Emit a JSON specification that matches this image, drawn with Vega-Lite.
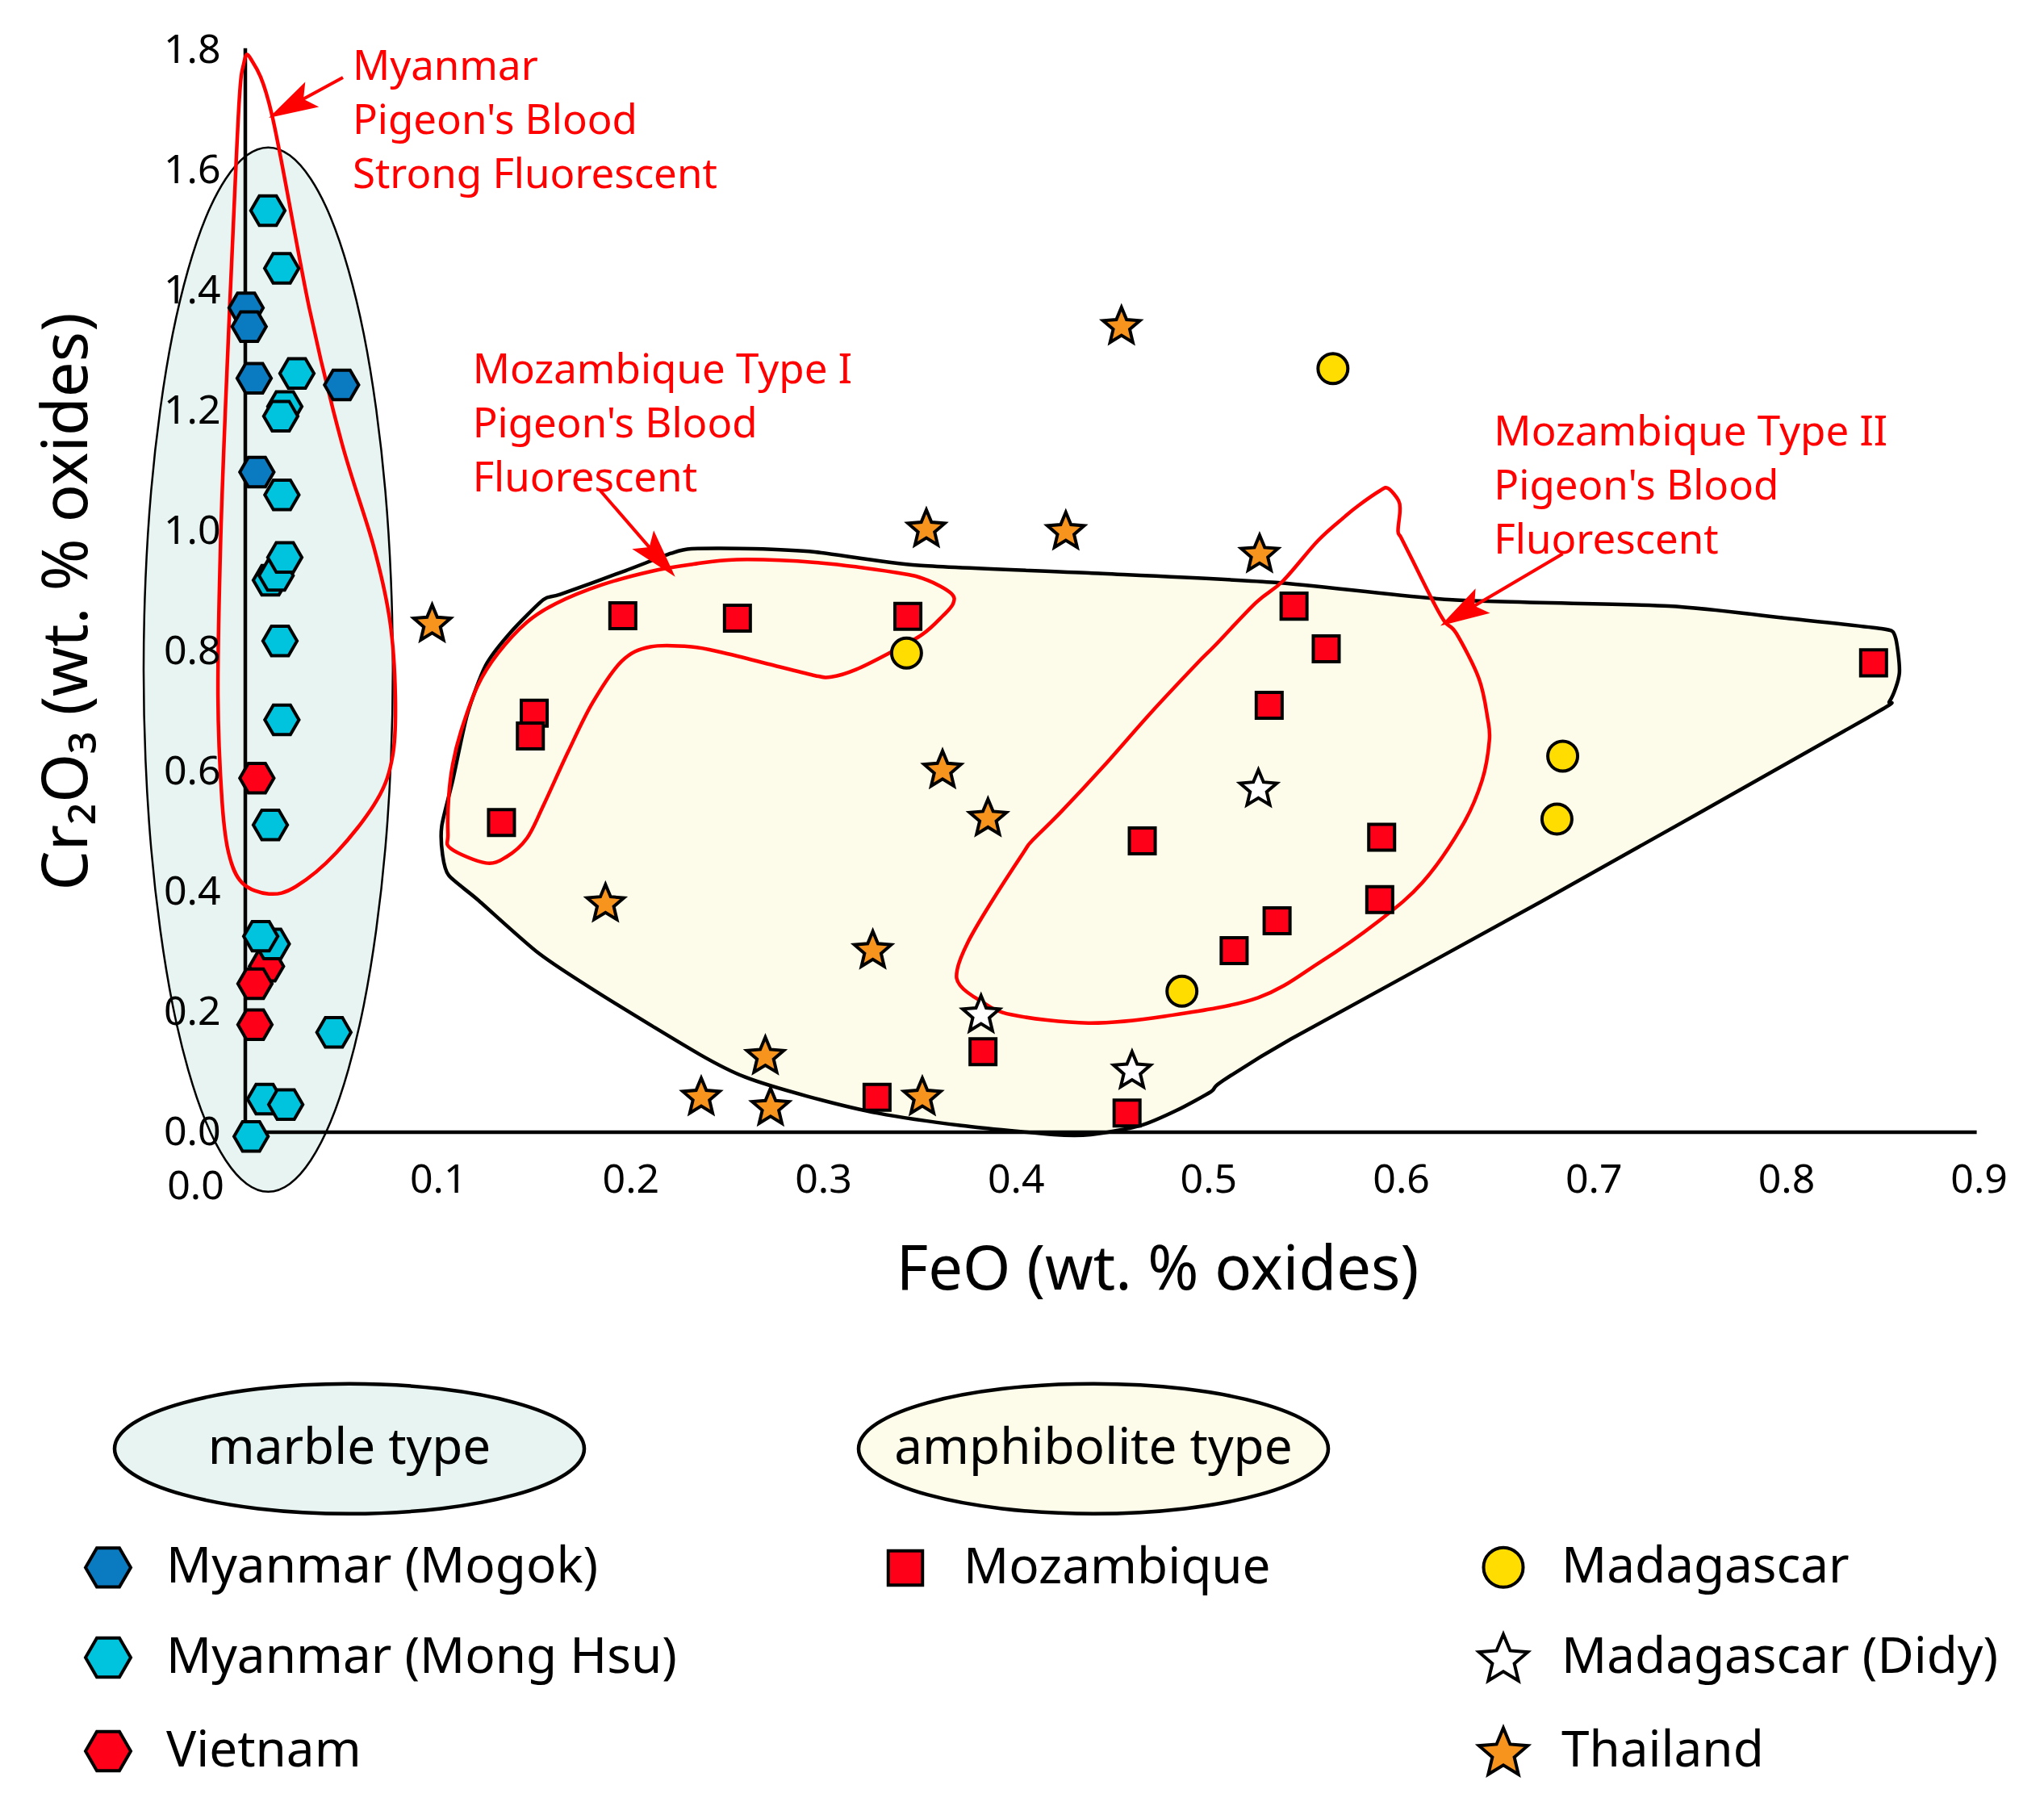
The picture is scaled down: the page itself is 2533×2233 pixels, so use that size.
{
  "$schema": "https://vega.github.io/schema/vega-lite/v6.json",
  "width": 2172,
  "height": 1341,
  "autosize": {"type": "none"},
  "padding": {"left": 304, "top": 62, "right": 57, "bottom": 830},
  "background": "white",
  "config": {"view": {"stroke": null}, "font": "Noto Sans"},
  "datasets": {
    "regions": [
      {"region": "marble type", "i": 0, "x": 0.0766, "y": 0.7695},
      {"region": "marble type", "i": 1, "x": 0.0756, "y": 0.9203},
      {"region": "marble type", "i": 2, "x": 0.0727, "y": 1.0665},
      {"region": "marble type", "i": 3, "x": 0.0679, "y": 1.2038},
      {"region": "marble type", "i": 4, "x": 0.0615, "y": 1.3278},
      {"region": "marble type", "i": 5, "x": 0.0535, "y": 1.4348},
      {"region": "marble type", "i": 6, "x": 0.0443, "y": 1.5216},
      {"region": "marble type", "i": 7, "x": 0.034, "y": 1.5856},
      {"region": "marble type", "i": 8, "x": 0.0231, "y": 1.6248},
      {"region": "marble type", "i": 9, "x": 0.0119, "y": 1.638},
      {"region": "marble type", "i": 10, "x": 0.0007, "y": 1.6248},
      {"region": "marble type", "i": 11, "x": -0.0102, "y": 1.5856},
      {"region": "marble type", "i": 12, "x": -0.0205, "y": 1.5216},
      {"region": "marble type", "i": 13, "x": -0.0297, "y": 1.4348},
      {"region": "marble type", "i": 14, "x": -0.0377, "y": 1.3278},
      {"region": "marble type", "i": 15, "x": -0.0441, "y": 1.2038},
      {"region": "marble type", "i": 16, "x": -0.0489, "y": 1.0665},
      {"region": "marble type", "i": 17, "x": -0.0518, "y": 0.9203},
      {"region": "marble type", "i": 18, "x": -0.0528, "y": 0.7695},
      {"region": "marble type", "i": 19, "x": -0.0518, "y": 0.6187},
      {"region": "marble type", "i": 20, "x": -0.0489, "y": 0.4725},
      {"region": "marble type", "i": 21, "x": -0.0441, "y": 0.3352},
      {"region": "marble type", "i": 22, "x": -0.0377, "y": 0.2112},
      {"region": "marble type", "i": 23, "x": -0.0297, "y": 0.1042},
      {"region": "marble type", "i": 24, "x": -0.0205, "y": 0.0174},
      {"region": "marble type", "i": 25, "x": -0.0102, "y": -0.0466},
      {"region": "marble type", "i": 26, "x": 0.0007, "y": -0.0858},
      {"region": "marble type", "i": 27, "x": 0.0119, "y": -0.099},
      {"region": "marble type", "i": 28, "x": 0.0231, "y": -0.0858},
      {"region": "marble type", "i": 29, "x": 0.034, "y": -0.0466},
      {"region": "marble type", "i": 30, "x": 0.0443, "y": 0.0174},
      {"region": "marble type", "i": 31, "x": 0.0535, "y": 0.1042},
      {"region": "marble type", "i": 32, "x": 0.0615, "y": 0.2112},
      {"region": "marble type", "i": 33, "x": 0.0679, "y": 0.3352},
      {"region": "marble type", "i": 34, "x": 0.0727, "y": 0.4725},
      {"region": "marble type", "i": 35, "x": 0.0756, "y": 0.6187},
      {"region": "amphibolite type", "i": 0, "x": 0.102, "y": 0.5094},
      {"region": "amphibolite type", "i": 1, "x": 0.1077, "y": 0.5852},
      {"region": "amphibolite type", "i": 2, "x": 0.1152, "y": 0.6944},
      {"region": "amphibolite type", "i": 3, "x": 0.1248, "y": 0.7765},
      {"region": "amphibolite type", "i": 4, "x": 0.1377, "y": 0.8313},
      {"region": "amphibolite type", "i": 5, "x": 0.1548, "y": 0.886},
      {"region": "amphibolite type", "i": 6, "x": 0.1634, "y": 0.8944},
      {"region": "amphibolite type", "i": 7, "x": 0.1975, "y": 0.9342},
      {"region": "amphibolite type", "i": 8, "x": 0.221, "y": 0.9628},
      {"region": "amphibolite type", "i": 9, "x": 0.2317, "y": 0.9705},
      {"region": "amphibolite type", "i": 10, "x": 0.2638, "y": 0.9705},
      {"region": "amphibolite type", "i": 11, "x": 0.2958, "y": 0.9651},
      {"region": "amphibolite type", "i": 12, "x": 0.3493, "y": 0.943},
      {"region": "amphibolite type", "i": 13, "x": 0.4382, "y": 0.9302},
      {"region": "amphibolite type", "i": 14, "x": 0.5348, "y": 0.9144},
      {"region": "amphibolite type", "i": 15, "x": 0.6267, "y": 0.8855},
      {"region": "amphibolite type", "i": 16, "x": 0.739, "y": 0.8752},
      {"region": "amphibolite type", "i": 17, "x": 0.8, "y": 0.855},
      {"region": "amphibolite type", "i": 18, "x": 0.8495, "y": 0.8375},
      {"region": "amphibolite type", "i": 19, "x": 0.8565, "y": 0.8255},
      {"region": "amphibolite type", "i": 20, "x": 0.8588, "y": 0.7638},
      {"region": "amphibolite type", "i": 21, "x": 0.8537, "y": 0.7168},
      {"region": "amphibolite type", "i": 22, "x": 0.8419, "y": 0.6886},
      {"region": "amphibolite type", "i": 23, "x": 0.6736, "y": 0.3849},
      {"region": "amphibolite type", "i": 24, "x": 0.5429, "y": 0.155},
      {"region": "amphibolite type", "i": 25, "x": 0.5064, "y": 0.0832},
      {"region": "amphibolite type", "i": 26, "x": 0.5015, "y": 0.0677},
      {"region": "amphibolite type", "i": 27, "x": 0.4839, "y": 0.0369},
      {"region": "amphibolite type", "i": 28, "x": 0.4647, "y": 0.011},
      {"region": "amphibolite type", "i": 29, "x": 0.439, "y": -0.004},
      {"region": "amphibolite type", "i": 30, "x": 0.4198, "y": -0.004},
      {"region": "amphibolite type", "i": 31, "x": 0.3718, "y": 0.0111},
      {"region": "amphibolite type", "i": 32, "x": 0.3284, "y": 0.0317},
      {"region": "amphibolite type", "i": 33, "x": 0.2916, "y": 0.06},
      {"region": "amphibolite type", "i": 34, "x": 0.2595, "y": 0.0917},
      {"region": "amphibolite type", "i": 35, "x": 0.2359, "y": 0.1294},
      {"region": "amphibolite type", "i": 36, "x": 0.1848, "y": 0.2286},
      {"region": "amphibolite type", "i": 37, "x": 0.1525, "y": 0.2972},
      {"region": "amphibolite type", "i": 38, "x": 0.1207, "y": 0.3866},
      {"region": "amphibolite type", "i": 39, "x": 0.1056, "y": 0.4272},
      {"region": "amphibolite type", "i": 40, "x": 0.1024, "y": 0.4617}
    ],
    "axes": [
      {"x": 0, "y": 0, "x2": 0, "y2": 1.8},
      {"x": 0, "y": 0, "x2": 0.898, "y2": 0}
    ],
    "outlines": [
      {"name": "Myanmar", "i": 0, "x": 0.0025, "y": 1.787},
      {"name": "Myanmar", "i": 1, "x": 0.0137, "y": 1.694},
      {"name": "Myanmar", "i": 2, "x": 0.0332, "y": 1.371},
      {"name": "Myanmar", "i": 3, "x": 0.05, "y": 1.1477},
      {"name": "Myanmar", "i": 4, "x": 0.0667, "y": 0.9737},
      {"name": "Myanmar", "i": 5, "x": 0.0751, "y": 0.8497},
      {"name": "Myanmar", "i": 6, "x": 0.0779, "y": 0.7254},
      {"name": "Myanmar", "i": 7, "x": 0.0765, "y": 0.626},
      {"name": "Myanmar", "i": 8, "x": 0.0682, "y": 0.5517},
      {"name": "Myanmar", "i": 9, "x": 0.0472, "y": 0.4647},
      {"name": "Myanmar", "i": 10, "x": 0.0263, "y": 0.4087},
      {"name": "Myanmar", "i": 11, "x": 0.0123, "y": 0.3964},
      {"name": "Myanmar", "i": 12, "x": -0.0017, "y": 0.415},
      {"name": "Myanmar", "i": 13, "x": -0.0087, "y": 0.4647},
      {"name": "Myanmar", "i": 14, "x": -0.0121, "y": 0.5517},
      {"name": "Myanmar", "i": 15, "x": -0.0142, "y": 0.7254},
      {"name": "Myanmar", "i": 16, "x": -0.0129, "y": 0.9737},
      {"name": "Myanmar", "i": 17, "x": -0.0101, "y": 1.2222},
      {"name": "Myanmar", "i": 18, "x": -0.0059, "y": 1.5325},
      {"name": "Myanmar", "i": 19, "x": -0.0031, "y": 1.7188},
      {"name": "Myanmar", "i": 20, "x": -0.001, "y": 1.7747},
      {"name": "TypeI", "i": 0, "x": 0.1067, "y": 0.4718},
      {"name": "TypeI", "i": 1, "x": 0.1248, "y": 0.4478},
      {"name": "TypeI", "i": 2, "x": 0.1356, "y": 0.4581},
      {"name": "TypeI", "i": 3, "x": 0.1462, "y": 0.4889},
      {"name": "TypeI", "i": 4, "x": 0.1548, "y": 0.5436},
      {"name": "TypeI", "i": 5, "x": 0.1676, "y": 0.6328},
      {"name": "TypeI", "i": 6, "x": 0.1804, "y": 0.7149},
      {"name": "TypeI", "i": 7, "x": 0.1954, "y": 0.7834},
      {"name": "TypeI", "i": 8, "x": 0.2103, "y": 0.8074},
      {"name": "TypeI", "i": 9, "x": 0.2317, "y": 0.8074},
      {"name": "TypeI", "i": 10, "x": 0.2488, "y": 0.797},
      {"name": "TypeI", "i": 11, "x": 0.2744, "y": 0.7765},
      {"name": "TypeI", "i": 12, "x": 0.2958, "y": 0.7595},
      {"name": "TypeI", "i": 13, "x": 0.3044, "y": 0.7573},
      {"name": "TypeI", "i": 14, "x": 0.3171, "y": 0.7697},
      {"name": "TypeI", "i": 15, "x": 0.3343, "y": 0.797},
      {"name": "TypeI", "i": 16, "x": 0.3515, "y": 0.8279},
      {"name": "TypeI", "i": 17, "x": 0.3621, "y": 0.8587},
      {"name": "TypeI", "i": 18, "x": 0.3675, "y": 0.8792},
      {"name": "TypeI", "i": 19, "x": 0.3664, "y": 0.8964},
      {"name": "TypeI", "i": 20, "x": 0.3536, "y": 0.9189},
      {"name": "TypeI", "i": 21, "x": 0.3385, "y": 0.9306},
      {"name": "TypeI", "i": 22, "x": 0.2958, "y": 0.9477},
      {"name": "TypeI", "i": 23, "x": 0.2551, "y": 0.9525},
      {"name": "TypeI", "i": 24, "x": 0.2317, "y": 0.9443},
      {"name": "TypeI", "i": 25, "x": 0.2103, "y": 0.9326},
      {"name": "TypeI", "i": 26, "x": 0.1848, "y": 0.9101},
      {"name": "TypeI", "i": 27, "x": 0.1612, "y": 0.8792},
      {"name": "TypeI", "i": 28, "x": 0.1462, "y": 0.8483},
      {"name": "TypeI", "i": 29, "x": 0.1313, "y": 0.797},
      {"name": "TypeI", "i": 30, "x": 0.1206, "y": 0.7423},
      {"name": "TypeI", "i": 31, "x": 0.112, "y": 0.6671},
      {"name": "TypeI", "i": 32, "x": 0.1077, "y": 0.6121},
      {"name": "TypeI", "i": 33, "x": 0.1056, "y": 0.5573},
      {"name": "TypeI", "i": 34, "x": 0.1052, "y": 0.4957},
      {"name": "TypeII", "i": 0, "x": 0.5932, "y": 1.0711},
      {"name": "TypeII", "i": 1, "x": 0.5987, "y": 1.051},
      {"name": "TypeII", "i": 2, "x": 0.5995, "y": 1.0336},
      {"name": "TypeII", "i": 3, "x": 0.5985, "y": 0.9996},
      {"name": "TypeII", "i": 4, "x": 0.6002, "y": 0.9884},
      {"name": "TypeII", "i": 5, "x": 0.6058, "y": 0.9526},
      {"name": "TypeII", "i": 6, "x": 0.617, "y": 0.881},
      {"name": "TypeII", "i": 7, "x": 0.6229, "y": 0.8483},
      {"name": "TypeII", "i": 8, "x": 0.6288, "y": 0.8295},
      {"name": "TypeII", "i": 9, "x": 0.6405, "y": 0.7544},
      {"name": "TypeII", "i": 10, "x": 0.645, "y": 0.6886},
      {"name": "TypeII", "i": 11, "x": 0.6459, "y": 0.651},
      {"name": "TypeII", "i": 12, "x": 0.6421, "y": 0.5848},
      {"name": "TypeII", "i": 13, "x": 0.6318, "y": 0.5095},
      {"name": "TypeII", "i": 14, "x": 0.6112, "y": 0.4153},
      {"name": "TypeII", "i": 15, "x": 0.5877, "y": 0.3494},
      {"name": "TypeII", "i": 16, "x": 0.5583, "y": 0.2835},
      {"name": "TypeII", "i": 17, "x": 0.5258, "y": 0.2238},
      {"name": "TypeII", "i": 18, "x": 0.4777, "y": 0.193},
      {"name": "TypeII", "i": 19, "x": 0.4377, "y": 0.1816},
      {"name": "TypeII", "i": 20, "x": 0.3976, "y": 0.1956},
      {"name": "TypeII", "i": 21, "x": 0.3816, "y": 0.2187},
      {"name": "TypeII", "i": 22, "x": 0.3711, "y": 0.2443},
      {"name": "TypeII", "i": 23, "x": 0.3696, "y": 0.27},
      {"name": "TypeII", "i": 24, "x": 0.3752, "y": 0.3162},
      {"name": "TypeII", "i": 25, "x": 0.3864, "y": 0.3779},
      {"name": "TypeII", "i": 26, "x": 0.404, "y": 0.4652},
      {"name": "TypeII", "i": 27, "x": 0.4088, "y": 0.4858},
      {"name": "TypeII", "i": 28, "x": 0.4233, "y": 0.532},
      {"name": "TypeII", "i": 29, "x": 0.4457, "y": 0.609},
      {"name": "TypeII", "i": 30, "x": 0.4698, "y": 0.6964},
      {"name": "TypeII", "i": 31, "x": 0.4938, "y": 0.7785},
      {"name": "TypeII", "i": 32, "x": 0.5034, "y": 0.8094},
      {"name": "TypeII", "i": 33, "x": 0.5248, "y": 0.881},
      {"name": "TypeII", "i": 34, "x": 0.5387, "y": 0.9168},
      {"name": "TypeII", "i": 35, "x": 0.5569, "y": 0.9839},
      {"name": "TypeII", "i": 36, "x": 0.5709, "y": 1.024},
      {"name": "TypeII", "i": 37, "x": 0.5778, "y": 1.042},
      {"name": "TypeII", "i": 38, "x": 0.589, "y": 1.0667}
    ],
    "arrows": [
      {"id": "myanmar", "x": 0.0507, "y": 1.7544, "x2": 0.0214, "y2": 1.7034},
      {"id": "typeI", "x": 0.1843, "y": 1.0671, "x2": 0.2162, "y2": 0.9491},
      {"id": "typeII", "x": 0.684, "y": 0.962, "x2": 0.6296, "y2": 0.8593}
    ],
    "heads": [
      {"id": "myanmar", "x": 0.0122, "y": 1.6872},
      {"id": "typeI", "x": 0.2232, "y": 0.9238},
      {"id": "typeII", "x": 0.6205, "y": 0.8423}
    ],
    "notes": [
      {"label": "Myanmar\nPigeon's Blood\nStrong Fluorescent", "x": 0.0557, "y": 1.7505},
      {"label": "Mozambique Type I\nPigeon's Blood\nFluorescent", "x": 0.118, "y": 1.246},
      {"label": "Mozambique Type II\nPigeon's Blood\nFluorescent", "x": 0.6483, "y": 1.1428}
    ],
    "samples": [
      {"locality": "Vietnam", "x": 0.006, "y": 0.589},
      {"locality": "Vietnam", "x": 0.011, "y": 0.276},
      {"locality": "Vietnam", "x": 0.005, "y": 0.247},
      {"locality": "Vietnam", "x": 0.005, "y": 0.179},
      {"locality": "Myanmar (Mogok)", "x": 0.0004, "y": 1.371},
      {"locality": "Myanmar (Mogok)", "x": 0.002, "y": 1.34},
      {"locality": "Myanmar (Mogok)", "x": 0.0046, "y": 1.254},
      {"locality": "Myanmar (Mogok)", "x": 0.05, "y": 1.243},
      {"locality": "Myanmar (Mogok)", "x": 0.006, "y": 1.098},
      {"locality": "Myanmar (Mong Hsu)", "x": 0.0117, "y": 1.533},
      {"locality": "Myanmar (Mong Hsu)", "x": 0.0189, "y": 1.437},
      {"locality": "Myanmar (Mong Hsu)", "x": 0.0268, "y": 1.262},
      {"locality": "Myanmar (Mong Hsu)", "x": 0.0205, "y": 1.207},
      {"locality": "Myanmar (Mong Hsu)", "x": 0.0184, "y": 1.191},
      {"locality": "Myanmar (Mong Hsu)", "x": 0.019, "y": 1.06},
      {"locality": "Myanmar (Mong Hsu)", "x": 0.013, "y": 0.918},
      {"locality": "Myanmar (Mong Hsu)", "x": 0.016, "y": 0.926},
      {"locality": "Myanmar (Mong Hsu)", "x": 0.0205, "y": 0.956},
      {"locality": "Myanmar (Mong Hsu)", "x": 0.018, "y": 0.817},
      {"locality": "Myanmar (Mong Hsu)", "x": 0.019, "y": 0.686},
      {"locality": "Myanmar (Mong Hsu)", "x": 0.013, "y": 0.511},
      {"locality": "Myanmar (Mong Hsu)", "x": 0.014, "y": 0.313},
      {"locality": "Myanmar (Mong Hsu)", "x": 0.008, "y": 0.326},
      {"locality": "Myanmar (Mong Hsu)", "x": 0.046, "y": 0.166},
      {"locality": "Myanmar (Mong Hsu)", "x": 0.01, "y": 0.055},
      {"locality": "Myanmar (Mong Hsu)", "x": 0.021, "y": 0.046},
      {"locality": "Myanmar (Mong Hsu)", "x": 0.003, "y": -0.007},
      {"locality": "Mozambique", "x": 0.196, "y": 0.859},
      {"locality": "Mozambique", "x": 0.2555, "y": 0.855},
      {"locality": "Mozambique", "x": 0.344, "y": 0.858},
      {"locality": "Mozambique", "x": 0.15, "y": 0.697},
      {"locality": "Mozambique", "x": 0.148, "y": 0.659},
      {"locality": "Mozambique", "x": 0.133, "y": 0.515},
      {"locality": "Mozambique", "x": 0.5445, "y": 0.875},
      {"locality": "Mozambique", "x": 0.5612, "y": 0.804},
      {"locality": "Mozambique", "x": 0.5316, "y": 0.71},
      {"locality": "Mozambique", "x": 0.4657, "y": 0.4846},
      {"locality": "Mozambique", "x": 0.59, "y": 0.4906},
      {"locality": "Mozambique", "x": 0.589, "y": 0.387},
      {"locality": "Mozambique", "x": 0.5357, "y": 0.3517},
      {"locality": "Mozambique", "x": 0.5134, "y": 0.302},
      {"locality": "Mozambique", "x": 0.8454, "y": 0.7807},
      {"locality": "Mozambique", "x": 0.383, "y": 0.134},
      {"locality": "Mozambique", "x": 0.328, "y": 0.058},
      {"locality": "Mozambique", "x": 0.4578, "y": 0.032},
      {"locality": "Madagascar", "x": 0.5647, "y": 1.27},
      {"locality": "Madagascar", "x": 0.3433, "y": 0.797},
      {"locality": "Madagascar", "x": 0.684, "y": 0.6255},
      {"locality": "Madagascar", "x": 0.681, "y": 0.5208},
      {"locality": "Madagascar", "x": 0.4863, "y": 0.2345},
      {"locality": "Madagascar (Didy)", "x": 0.526, "y": 0.5736},
      {"locality": "Madagascar (Didy)", "x": 0.382, "y": 0.198},
      {"locality": "Madagascar (Didy)", "x": 0.4604, "y": 0.1047},
      {"locality": "Thailand", "x": 0.4549, "y": 1.343},
      {"locality": "Thailand", "x": 0.3536, "y": 1.006},
      {"locality": "Thailand", "x": 0.426, "y": 1.002},
      {"locality": "Thailand", "x": 0.5266, "y": 0.964},
      {"locality": "Thailand", "x": 0.097, "y": 0.848},
      {"locality": "Thailand", "x": 0.362, "y": 0.605},
      {"locality": "Thailand", "x": 0.3856, "y": 0.525},
      {"locality": "Thailand", "x": 0.187, "y": 0.383},
      {"locality": "Thailand", "x": 0.3258, "y": 0.305},
      {"locality": "Thailand", "x": 0.27, "y": 0.129},
      {"locality": "Thailand", "x": 0.2367, "y": 0.061},
      {"locality": "Thailand", "x": 0.2727, "y": 0.044},
      {"locality": "Thailand", "x": 0.3515, "y": 0.061}
    ]
  },
  "encoding": {
    "x": {
      "field": "x", "type": "quantitative",
      "scale": {"domain": [0, 0.91], "nice": false, "zero": false},
      "axis": {
        "title": "FeO (wt. % oxides)",
        "values": [0, 0.1, 0.2, 0.3, 0.4, 0.5, 0.6, 0.7, 0.8, 0.9],
        "format": ".1f", "ticks": false, "domain": false, "grid": false, "zindex": 1,
        "labelFont": "Noto Sans", "labelFontSize": 50, "labelColor": "black",
        "labelPadding": {"condition": {"test": "datum.value === 0", "value": 42}, "value": 34},
        "labelFlush": false, "labelOverlap": false, "labelBound": false,
        "labelOffset": {"condition": {"test": "datum.value === 0", "value": -62}, "value": 0},
        "titleFont": "Noto Sans", "titleFontSize": 76, "titleFontWeight": "normal", "titleColor": "black",
        "titleX": 1130, "titleY": 194, "titleAlign": "center", "titleBaseline": "alphabetic"
      }
    },
    "y": {
      "field": "y", "type": "quantitative",
      "scale": {"domain": [0, 1.8], "nice": false, "zero": false},
      "axis": {
        "title": "Cr₂O₃ (wt. % oxides)",
        "values": [0, 0.2, 0.4, 0.6, 0.8, 1.0, 1.2, 1.4, 1.6, 1.8],
        "format": ".1f", "ticks": false, "domain": false, "grid": false, "zindex": 1,
        "labelFont": "Noto Sans", "labelFontSize": 50, "labelColor": "black",
        "labelPadding": 31, "labelFlush": false, "labelOverlap": false,
        "titleFont": "Noto Sans", "titleFontSize": 78, "titleFontWeight": "normal", "titleColor": "black",
        "titleX": -197, "titleY": 683, "titleAngle": -90, "titleAlign": "center", "titleBaseline": "alphabetic"
      }
    }
  },
  "layer": [
    {
      "data": {"name": "regions"},
      "transform": [{"filter": "datum.region === 'marble type'"}],
      "mark": {"type": "line", "interpolate": "cardinal-closed", "stroke": "black", "strokeWidth": 2.5},
      "encoding": {
        "order": {"field": "i", "type": "quantitative"},
        "fill": {
          "field": "region", "type": "nominal",
          "scale": {"domain": ["marble type", "amphibolite type"], "range": ["#E8F4F1", "#FDFCEA"]},
          "legend": {
            "title": null, "orient": "none", "legendX": -164, "legendY": 1650,
            "columns": 2, "columnPadding": 320, "padding": 0,
            "symbolType": "M-3.615,0A3.615,1,0,1,1,3.615,0A3.615,1,0,1,1,-3.615,0Z",
            "symbolSize": 25921, "symbolStrokeColor": "black", "symbolStrokeWidth": 4, "symbolOpacity": 1,
            "symbolOffset": 210, "labelAlign": "center", "labelOffset": -83,
            "labelFont": "Noto Sans", "labelFontSize": 62, "labelColor": "black", "labelLimit": 1000,
            "encode": {
              "symbols": {"update": {"stroke": {"value": "black"}, "strokeWidth": {"value": 4.5}}},
              "labels": {"update": {"align": {"value": "center"}}}
            }
          }
        }
      }
    },
    {
      "data": {"name": "regions"},
      "transform": [{"filter": "datum.region === 'amphibolite type'"}],
      "mark": {"type": "line", "interpolate": "cardinal-closed", "tension": 0.3, "stroke": "black", "strokeWidth": 4.5},
      "encoding": {
        "order": {"field": "i", "type": "quantitative"},
        "fill": {
          "field": "region", "type": "nominal",
          "scale": {"domain": ["marble type", "amphibolite type"], "range": ["#E8F4F1", "#FDFCEA"]},
          "legend": {
            "title": null, "orient": "none", "legendX": -164, "legendY": 1650,
            "columns": 2, "columnPadding": 320, "padding": 0,
            "symbolType": "M-3.615,0A3.615,1,0,1,1,3.615,0A3.615,1,0,1,1,-3.615,0Z",
            "symbolSize": 25921, "symbolStrokeColor": "black", "symbolStrokeWidth": 4, "symbolOpacity": 1,
            "symbolOffset": 210, "labelAlign": "center", "labelOffset": -83,
            "labelFont": "Noto Sans", "labelFontSize": 62, "labelColor": "black", "labelLimit": 1000,
            "encode": {
              "symbols": {"update": {"stroke": {"value": "black"}, "strokeWidth": {"value": 4.5}}},
              "labels": {"update": {"align": {"value": "center"}}}
            }
          }
        }
      }
    },
    {
      "data": {"name": "axes"},
      "mark": {"type": "rule", "color": "black", "strokeWidth": 4.5, "strokeCap": "square"},
      "encoding": {"x2": {"field": "x2"}, "y2": {"field": "y2"}}
    },
    {
      "data": {"name": "outlines"},
      "mark": {"type": "line", "interpolate": "cardinal-closed", "stroke": "#FF0000", "strokeWidth": 4.5},
      "encoding": {
        "detail": {"field": "name", "type": "nominal"},
        "order": {"field": "i", "type": "quantitative"}
      }
    },
    {
      "data": {"name": "arrows"},
      "mark": {"type": "rule", "color": "#FF0000", "strokeWidth": 4},
      "encoding": {"x2": {"field": "x2"}, "y2": {"field": "y2"}}
    },
    {
      "data": {"name": "heads"},
      "transform": [{"filter": "datum.id === 'myanmar'"}],
      "mark": {"type": "point", "shape": "M0,0L0.29,1L0,0.8L-0.29,1Z", "filled": true, "color": "#FF0000", "size": 14884, "angle": 241.5, "opacity": 1, "strokeWidth": 0},
      "encoding": {}
    },
    {
      "data": {"name": "heads"},
      "transform": [{"filter": "datum.id === 'typeI'"}],
      "mark": {"type": "point", "shape": "M0,0L0.29,1L0,0.8L-0.29,1Z", "filled": true, "color": "#FF0000", "size": 14884, "angle": 139, "opacity": 1, "strokeWidth": 0},
      "encoding": {}
    },
    {
      "data": {"name": "heads"},
      "transform": [{"filter": "datum.id === 'typeII'"}],
      "mark": {"type": "point", "shape": "M0,0L0.29,1L0,0.8L-0.29,1Z", "filled": true, "color": "#FF0000", "size": 14884, "angle": 239.5, "opacity": 1, "strokeWidth": 0},
      "encoding": {}
    },
    {
      "data": {"name": "samples"},
      "mark": {"type": "point", "filled": true, "stroke": "black", "strokeWidth": 4, "size": 2304, "opacity": 1},
      "encoding": {
        "color": {
          "field": "locality", "type": "nominal",
          "scale": {
            "domain": ["Myanmar (Mogok)", "Myanmar (Mong Hsu)", "Vietnam", "Mozambique", " ", "  ", "Madagascar", "Madagascar (Didy)", "Thailand"],
            "range": ["#0B7BC1", "#00C4DE", "#FF0019", "#FF0019", "transparent", "transparent", "#FFDD00", "#FFFFFF", "#F7941D"]
          },
          "legend": {
            "title": null, "orient": "none", "legendX": -204, "legendY": 1846,
            "columns": 3, "columnPadding": 249, "rowPadding": 42, "padding": 0,
            "symbolSize": 4050, "symbolStrokeColor": "black", "symbolStrokeWidth": 4, "symbolOpacity": 1,
            "labelOffset": 38, "labelFont": "Noto Sans", "labelFontSize": 62, "labelColor": "black", "labelLimit": 1000,
            "encode": {"symbols": {"update": {"stroke": {"value": "black"}, "strokeWidth": {"value": 4}}}}
          }
        },
        "shape": {
          "field": "locality", "type": "nominal",
          "scale": {
            "domain": ["Myanmar (Mogok)", "Myanmar (Mong Hsu)", "Vietnam", "Mozambique", " ", "  ", "Madagascar", "Madagascar (Didy)", "Thailand"],
            "range": [
              "M-0.88,0L-0.44,-0.76L0.44,-0.76L0.88,0L0.44,0.76L-0.44,0.76Z",
              "M-0.88,0L-0.44,-0.76L0.44,-0.76L0.88,0L0.44,0.76L-0.44,0.76Z",
              "M-0.88,0L-0.44,-0.76L0.44,-0.76L0.88,0L0.44,0.76L-0.44,0.76Z",
              "M-0.667,-0.667L0.667,-0.667L0.667,0.667L-0.667,0.667Z",
              "M0,0",
              "M0,0",
              "M0.77,0A0.77,0.77,0,1,1,-0.77,0A0.77,0.77,0,1,1,0.77,0Z",
              "M0,-0.9045L0.2645,-0.2686L0.9511,-0.2135L0.428,0.2346L0.5878,0.9045L0,0.5455L-0.5878,0.9045L-0.428,0.2346L-0.9511,-0.2135L-0.2645,-0.2686Z",
              "M0,-0.9045L0.2645,-0.2686L0.9511,-0.2135L0.428,0.2346L0.5878,0.9045L0,0.5455L-0.5878,0.9045L-0.428,0.2346L-0.9511,-0.2135L-0.2645,-0.2686Z"
            ]
          },
          "legend": {
            "title": null, "orient": "none", "legendX": -204, "legendY": 1846,
            "columns": 3, "columnPadding": 249, "rowPadding": 42, "padding": 0,
            "symbolSize": 4050, "symbolStrokeColor": "black", "symbolStrokeWidth": 4, "symbolOpacity": 1,
            "labelOffset": 38, "labelFont": "Noto Sans", "labelFontSize": 62, "labelColor": "black", "labelLimit": 1000,
            "encode": {"symbols": {"update": {"stroke": {"value": "black"}, "strokeWidth": {"value": 4}}}}
          }
        }
      }
    },
    {
      "data": {"name": "notes"},
      "mark": {"type": "text", "align": "left", "baseline": "alphabetic", "font": "Noto Sans", "fontSize": 51, "lineHeight": 67, "color": "#FF0000", "lineBreak": "\n"},
      "encoding": {"text": {"field": "label", "type": "nominal"}}
    }
  ]
}
